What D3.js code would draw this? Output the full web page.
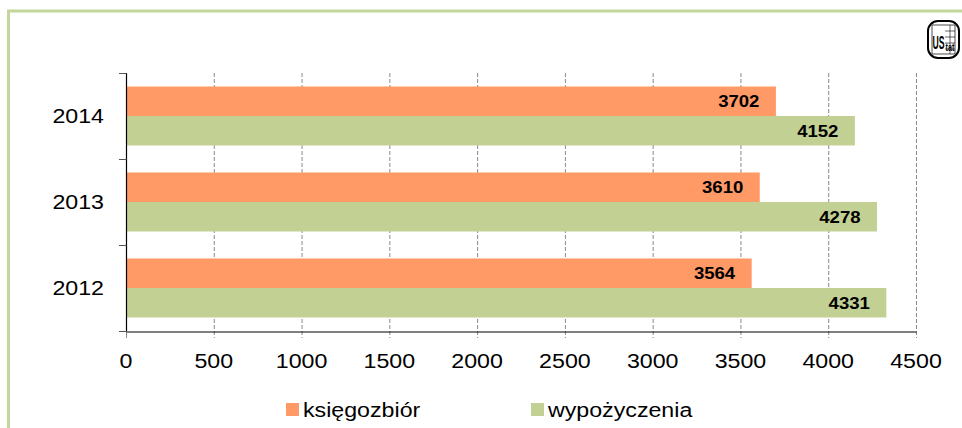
<!DOCTYPE html>
<html><head><meta charset="utf-8">
<script src="https://cdn.jsdelivr.net/npm/d3@7"></script>
<style>
body{margin:0;background:#fff;}
svg{display:block;font-family:"Liberation Sans",Arial,sans-serif;}
</style></head>
<body><svg id="c" width="962" height="428"></svg>
<script>
const years = ["2014","2013","2012"];
const seriesNames = ["księgozbiór","wypożyczenia"];
const ksiegozbior = [3702,3610,3564];
const wypozyczenia = [4152,4278,4331];
const xTicks = [0,500,1000,1500,2000,2500,3000,3500,4000,4500];
const colors = ["#ff9966","#c2d193"];
const SX = 1.16; // horizontal stretch of the original text

const svg = d3.select("#c");
// frame
svg.append("path").attr("d","M8.5,428 L8.5,11 L962,11").attr("fill","none").attr("stroke","#c3d69b").attr("stroke-width",3);

const x = d3.scaleLinear().domain([0,4500]).range([126,916]);
const y = d3.scaleBand().domain(years).range([73,331]).padding(0);
const groupH = 59;
const y1 = d3.scaleBand().domain(seriesNames).range([0,groupH]);

function stext(parent, px, py, str, size, anchor, weight){
  return parent.append("text").attr("transform",`translate(${px},${py}) scale(${SX},1)`)
    .attr("text-anchor",anchor).attr("font-size",size).attr("font-weight",weight||"normal")
    .attr("fill","#000").text(str);
}

// gridlines
svg.append("g").selectAll("line").data(xTicks.slice(1)).join("line")
  .attr("x1",d=>x(d)+0.5).attr("x2",d=>x(d)+0.5).attr("y1",73).attr("y2",338)
  .attr("stroke","#8a8a8a").attr("stroke-width",1).attr("stroke-dasharray","4,2");
svg.append("line").attr("x1",x(0)+0.5).attr("x2",x(0)+0.5).attr("y1",331).attr("y2",338).attr("stroke","#8a8a8a");

// bars
const data = years.map((yr,i)=>({year:yr, vals:[ksiegozbior[i],wypozyczenia[i]]}));
const g = svg.append("g");
data.forEach(d=>{
  const off = y(d.year) + (y.bandwidth()-groupH)/2;
  d.vals.forEach((v,j)=>{
    const yy = off + y1(seriesNames[j]);
    g.append("rect").attr("x",x(0)).attr("y",yy).attr("width",x(v)-x(0)).attr("height",y1.bandwidth()).attr("fill",colors[j]);
    stext(g, x(v)-16.5, yy+y1.bandwidth()/2+5.8, v, 16, "end", "bold");
  });
});

// axes
const xAxis = d3.axisBottom(x).tickValues(xTicks).tickSize(0).tickFormat(()=>"");
const gx = svg.append("g").attr("transform","translate(0,331.5)").call(xAxis);
gx.select(".domain").attr("stroke","#000").attr("stroke-width",1.2);
xTicks.forEach(t=>stext(svg, x(t), 367.5, t, 20, "middle"));

svg.append("line").attr("x1",126.5).attr("x2",126.5).attr("y1",73).attr("y2",331).attr("stroke","#000").attr("stroke-width",1.2);
svg.append("g").selectAll("line").data(years.map(d=>y(d)).concat([y(years[2])+y.bandwidth()])).join("line")
  .attr("x1",119).attr("x2",126.5).attr("y1",d=>d+0.5).attr("y2",d=>d+0.5).attr("stroke","#555");
years.forEach(yr=>stext(svg, 104, y(yr)+y.bandwidth()/2+7.2, yr, 20, "end"));

// legend
const lg = svg.append("g");
const legX = [286,531];
seriesNames.forEach((s,i)=>{
  lg.append("rect").attr("x",legX[i]).attr("y",403).attr("width",13).attr("height",13).attr("fill",colors[i]);
  stext(lg, legX[i]+17, 416.5, s, 20, "start");
});

// logo
const logo = svg.append("g").attr("transform","translate(928,21)");
logo.append("rect").attr("x",0).attr("y",0).attr("width",31).attr("height",37).attr("rx",10).attr("fill","#fff").attr("stroke","#000").attr("stroke-width",2);
logo.append("rect").attr("x",4).attr("y",4).attr("width",23).attr("height",29).attr("fill","none").attr("stroke","#000").attr("stroke-width",0.7);
[10,16,22,28].forEach(v=>logo.append("line").attr("x1",17).attr("x2",27).attr("y1",v).attr("y2",v).attr("stroke","#000").attr("stroke-width",0.6));
logo.append("line").attr("x1",22).attr("x2",22).attr("y1",4).attr("y2",33).attr("stroke","#000").attr("stroke-width",0.6);
logo.append("text").attr("transform","translate(4.5,28) scale(0.72,1.6)").attr("font-size",12).attr("font-weight","bold").text("US");
logo.append("text").attr("transform","translate(17.5,30) scale(0.9,1.3)").attr("font-size",8).attr("font-weight","bold").attr("fill","#000").text("tat");
</script></body></html>
